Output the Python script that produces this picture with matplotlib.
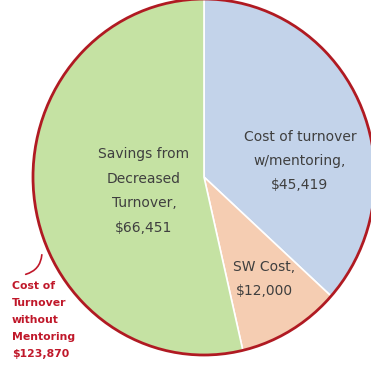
import matplotlib
matplotlib.use("Agg")
import matplotlib.pyplot as plt
from matplotlib.patches import Circle

categories = ["Cost of turnover\nw/mentoring,", "SW Cost,", "Savings from\nDecreased\nTurnover,"]
values = [45419, 12000, 66451]
value_labels = ["$45,419", "$12,000", "$66,451"]
total_label = "Cost of\nTurnover\nwithout\nMentoring\n$123,870"
colors = ["#c3d3ea", "#f5cdb2", "#c5e2a3"]

W, H = 371, 367
s = 178 / 171  # horizontal squeeze of the reference image


def X(px):
    return px * s


def Y(py):
    return H - py


fig = plt.figure(figsize=(W / 100, H / 100), dpi=100)
ax = fig.add_axes([0, 0, 1, 1])
cx, cy, r = X(204), Y(177), 178

wedges, _ = ax.pie(values, colors=colors, startangle=90, counterclock=False,
                   center=(cx, cy), radius=r,
                   wedgeprops=dict(edgecolor="white", linewidth=1.2))
ax.add_patch(Circle((cx, cy), r, fill=False, edgecolor="#b01a22", linewidth=2.0, zorder=5))

font = "DejaVu Sans"
txtc = "#3f3f3f"
ax.text(X(300), Y(161), categories[0] + "\n" + value_labels[0], ha="center", va="center",
        fontsize=10, color=txtc, family=font, linespacing=1.95)
ax.text(X(264), Y(279), categories[1] + "\n" + value_labels[1], ha="center", va="center",
        fontsize=10, color=txtc, family=font, linespacing=1.95)
ax.text(X(144), Y(191), categories[2] + "\n" + value_labels[2], ha="center", va="center",
        fontsize=10, color=txtc, family=font, linespacing=1.95)

ax.text(X(12), Y(320), total_label, ha="left", va="center", fontsize=7.8, fontweight="bold",
        color="#c0182a", family=font, linespacing=1.85)
ax.annotate("", xy=(X(42), Y(252)), xytext=(X(23), Y(275)),
            arrowprops=dict(arrowstyle="-", color="#c0182a", lw=1.2,
                            connectionstyle="arc3,rad=0.4"))

ax.set_xlim(0, W * s)
ax.set_ylim(0, H)
ax.set_aspect("auto")
ax.axis("off")
fig.savefig("out.png", dpi=100)
